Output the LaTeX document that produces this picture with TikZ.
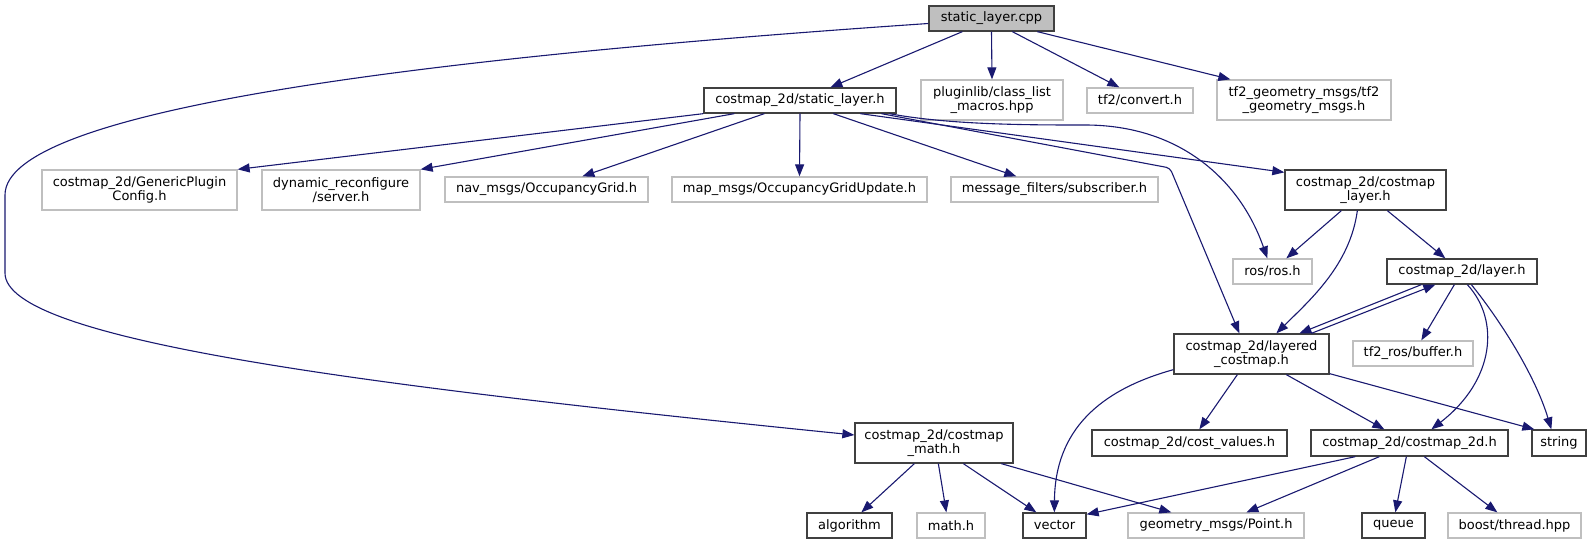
\documentclass[tikz,border=0pt]{standalone}
\usepackage{fontspec}
\setmainfont{DejaVu Sans}
\usetikzlibrary{arrows.meta}
\definecolor{edgecol}{RGB}{25,25,112}
\definecolor{darkbd}{RGB}{64,64,64}
\definecolor{lightbd}{RGB}{191,191,191}
\tikzset{
  hdr/.style={draw=darkbd, line width=1.3pt, fill=white, inner sep=0pt, align=center, font=\fontsize{13}{14.5}\selectfont},
  ext/.style={draw=lightbd, line width=1.3pt, fill=white, inner sep=0pt, align=center, font=\fontsize{13}{14.5}\selectfont},
  rootbox/.style={hdr, fill=lightbd},
  edge/.style={draw=edgecol, line width=1.1pt, -{Triangle[length=12pt,width=9pt]}, fill=none},
}
\newcommand{\bx}[6]{\node[#1, minimum width=#4pt, minimum height=#5pt] (#2) at (#3) {#6};}
\begin{document}
\begin{tikzpicture}[x=1pt,y=-1pt]
\useasboundingbox (0,0) rectangle (1596,544);
% nodes
\bx{rootbox}{cpp}{991.5,18.5}{125}{25}{static\_layer.cpp}
\bx{hdr}{slh}{800,100.5}{192}{25}{costmap\_2d/static\_layer.h}
\bx{ext}{plug}{992,100}{142}{40}{pluginlib/class\_list\\\_macros.hpp}
\bx{ext}{tfc}{1140,100.5}{106}{25}{tf2/convert.h}
\bx{ext}{tfg}{1304,100}{174}{40}{tf2\_geometry\_msgs/tf2\\\_geometry\_msgs.h}
\bx{ext}{gen}{139.5,190}{195}{40}{costmap\_2d/GenericPlugin\\Config.h}
\bx{ext}{dyn}{341,190}{158}{40}{dynamic\_reconfigure\\/server.h}
\bx{ext}{nav}{546.5,189.5}{203}{25}{nav\_msgs/OccupancyGrid.h}
\bx{ext}{map}{799.5,189.5}{255}{25}{map\_msgs/OccupancyGridUpdate.h}
\bx{ext}{msgf}{1054.5,189.5}{207}{25}{message\_filters/subscriber.h}
\bx{hdr}{cml}{1365.5,190}{161}{40}{costmap\_2d/costmap\\\_layer.h}
\bx{ext}{ros}{1272.5,271.5}{79}{25}{ros/ros.h}
\bx{hdr}{lay}{1462,271.5}{150}{25}{costmap\_2d/layer.h}
\bx{hdr}{lcm}{1251.5,354}{155}{40}{costmap\_2d/layered\\\_costmap.h}
\bx{ext}{tfb}{1413,353.5}{120}{25}{tf2\_ros/buffer.h}
\bx{hdr}{cmath}{934,443}{158}{40}{costmap\_2d/costmap\\\_math.h}
\bx{hdr}{cv}{1189.5,443}{195}{26}{costmap\_2d/cost\_values.h}
\bx{hdr}{cm2d}{1409.5,443}{197}{26}{costmap\_2d/costmap\_2d.h}
\bx{hdr}{str}{1559,443}{54}{26}{string}
\bx{hdr}{alg}{849.5,525.5}{85}{25}{algorithm}
\bx{ext}{mth}{951,525.5}{68}{25}{math.h}
\bx{hdr}{vec}{1054.5,525.5}{63}{25}{vector}
\bx{ext}{geo}{1216,525.5}{176}{25}{geometry\_msgs/Point.h}
\bx{hdr}{que}{1393.5,525.5}{63}{25}{queue}
\bx{ext}{bst}{1514.5,525.5}{133}{25}{boost/thread.hpp}
% edges from static_layer.cpp
\draw[edge] ([xshift=34pt]cpp.south west) -- ([xshift=127pt]slh.north west);
\draw[edge] (cpp.south) -- (plug.north);
\draw[edge] ([xshift=84pt]cpp.south west) -- ([xshift=33pt]tfc.north west);
\draw[edge] ([xshift=109pt]cpp.south west) -- ([xshift=14pt]tfg.north west);
\draw[edge] ([yshift=-5pt]cpp.west) .. controls (420,58) and (5,110) .. (5,195) -- (5,273) .. controls (5,340) and (360,385) .. ([yshift=8pt]cmath.west);
% edges from static_layer.h
\draw[edge] (slh.south west) -- (gen.north east);
\draw[edge] ([xshift=31pt]slh.south west) -- (dyn.north east);
\draw[edge] ([xshift=61pt]slh.south west) -- ([xshift=138pt]nav.north west);
\draw[edge] (slh.south) -- (map.north);
\draw[edge] ([xshift=130pt]slh.south west) -- ([xshift=66pt]msgf.north west);
\draw[edge] ([xshift=157pt]slh.south west) -- ([yshift=-3pt]cml.north west);
\draw[edge] ([xshift=186pt]slh.south west) .. controls (950,125) and (1030,125) .. (1085,125) .. controls (1180,125) and (1240,180) .. ([xshift=35pt]ros.north west);
\draw[edge, rounded corners=4pt] ([xshift=178pt]slh.south west) -- (1170,168) -- ([xshift=66pt]lcm.north west);
% edges from costmap_layer.h
\draw[edge] ([xshift=57pt]cml.south west) -- ([xshift=54pt]ros.north west);
\draw[edge] ([xshift=73pt]cml.south west) .. controls (1350,265) and (1310,300) .. ([xshift=103pt]lcm.north west);
\draw[edge] ([xshift=103pt]cml.south west) -- ([xshift=59pt]lay.north west);
% edges from layer.h
\draw[edge] ([xshift=35pt]lay.south west) -- ([xshift=126pt]lcm.north west);
\draw[edge] ([xshift=138pt]lcm.north west) -- ([xshift=49pt]lay.south west);
\draw[edge] ([xshift=68pt]lay.south west) -- ([xshift=69pt]tfb.north west);
\draw[edge] ([xshift=81pt]lay.south west) .. controls (1500,320) and (1495,380) .. ([xshift=121pt]cm2d.north west);
\draw[edge] ([xshift=85pt]lay.south west) .. controls (1500,320) and (1535,375) .. ([xshift=20pt]str.north west);
% edges from layered_costmap.h
\draw[edge] ([yshift=5pt]lcm.south west) .. controls (1100,390) and (1055,430) .. ([xshift=32pt]vec.north west);
\draw[edge] ([xshift=64pt]lcm.south west) -- ([xshift=108pt]cv.north west);
\draw[edge] ([xshift=113pt]lcm.south west) -- ([xshift=74pt]cm2d.north west);
\draw[edge] ([yshift=1pt]lcm.south east) -- ([xshift=3pt]str.north west);
% edges from costmap_math.h
\draw[edge] ([xshift=60pt]cmath.south west) -- ([xshift=55pt]alg.north west);
\draw[edge] ([xshift=84pt]cmath.south west) -- ([xshift=30pt]mth.north west);
\draw[edge] ([xshift=109pt]cmath.south west) -- ([xshift=14pt]vec.north west);
\draw[edge] ([xshift=147pt]cmath.south west) -- ([xshift=44pt]geo.north west);
% edges from costmap_2d.h
\draw[edge] ([xshift=45pt]cm2d.south west) -- ([yshift=-2pt]vec.north east);
\draw[edge] ([xshift=69pt]cm2d.south west) -- ([xshift=119pt]geo.north west);
\draw[edge] ([xshift=96pt]cm2d.south west) -- ([xshift=34pt]que.north west);
\draw[edge] ([xshift=114pt]cm2d.south west) -- ([xshift=50pt]bst.north west);
\end{tikzpicture}
\end{document}
